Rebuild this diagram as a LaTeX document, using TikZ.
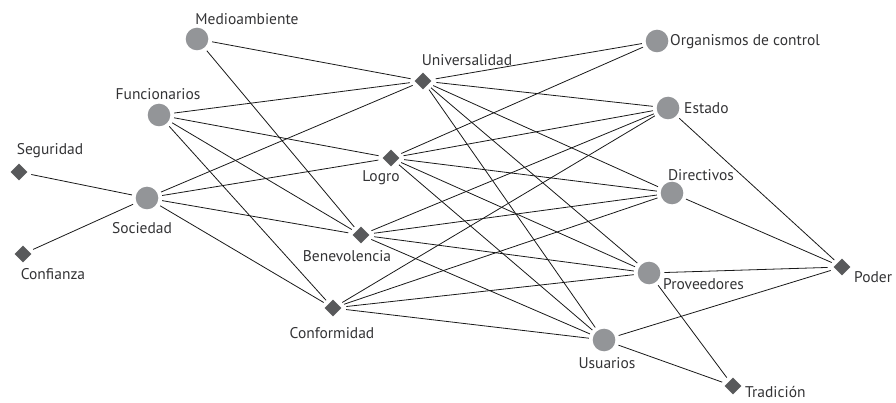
\documentclass[tikz,border=0pt]{standalone}
\usepackage{fontspec}
\setmainfont{PT Sans}
\usetikzlibrary{shapes.geometric}
\definecolor{circfill}{HTML}{939598}
\definecolor{diafill}{HTML}{58595B}
\definecolor{txt}{HTML}{333335}
\tikzset{
  circnode/.style={circle,fill=circfill,minimum size=22.6pt,inner sep=0pt,outer sep=4pt},
  dianode/.style={diamond,fill=diafill,minimum width=20.5pt,minimum height=20.5pt,inner sep=0pt,outer sep=4.5pt},
  lbl/.style={text=txt,font=\fontsize{15.5}{17}\selectfont,inner sep=0pt},
  link/.style={draw=black!90,line width=0.8pt}
}
\begin{document}
\begin{tikzpicture}[x=1pt,y=-1pt]
\useasboundingbox (0,0) rectangle (896,403);
% circle nodes
\node[circnode] (med) at (197,39) {};
\node[circnode] (fun) at (159,115) {};
\node[circnode] (soc) at (147,198) {};
\node[circnode] (org) at (657,41) {};
\node[circnode] (est) at (668,108) {};
\node[circnode] (dir) at (672,193) {};
\node[circnode] (pro) at (649,273) {};
\node[circnode] (usu) at (604,340) {};
% diamond nodes
\node[dianode] (seg) at (19,172) {};
\node[dianode] (con) at (23,254) {};
\node[dianode] (uni) at (423,81) {};
\node[dianode] (log) at (391,158) {};
\node[dianode] (ben) at (361,235) {};
\node[dianode] (cnf) at (333,308) {};
\node[dianode] (pod) at (842,267) {};
\node[dianode] (tra) at (733,386) {};
% labels
\node[lbl] (lmed) at (247,19) {Medioambiente};
\node[lbl] (lfun) at (158,94) {Funcionarios};
\node[lbl] (lseg) at (50,151) {Seguridad};
\node[lbl] (lsoc) at (142,228) {Sociedad};
\node[lbl] (lcon) at (53,274) {Confianza};
\node[lbl] (luni) at (467,60) {Universalidad};
\node[lbl] (llog) at (381,178) {Logro};
\node[lbl] (lben) at (347,256) {Benevolencia};
\node[lbl] (lcnf) at (332,333) {Conformidad};
\node[lbl,anchor=west] (lorg) at (670,42) {Organismos de control};
\node[lbl,anchor=west] (lest) at (684,108) {Estado};
\node[lbl] (ldir) at (701,175) {Directivos};
\node[lbl,anchor=west] (lpro) at (663,284) {Proveedores};
\node[lbl] (lusu) at (607,363) {Usuarios};
\node[lbl,anchor=west] (lpod) at (854,277) {Poder};
\node[lbl,anchor=west] (ltra) at (745,392) {Tradición};
% edges
\foreach \a/\b in {seg/soc,con/soc,
  med/uni,med/ben,
  fun/uni,fun/log,fun/ben,fun/cnf,
  soc/uni,soc/log,soc/ben,soc/cnf,
  uni/org,uni/est,uni/dir,uni/pro,uni/usu,
  log/org,log/est,log/dir,log/pro,log/usu,
  ben/est,ben/dir,ben/pro,ben/usu,
  cnf/est,cnf/dir,cnf/pro,cnf/usu,
  est/pod,dir/pod,pro/pod,usu/pod,
  pro/tra,usu/tra}
  \draw[link] (\a) -- (\b);
\end{tikzpicture}
\end{document}
